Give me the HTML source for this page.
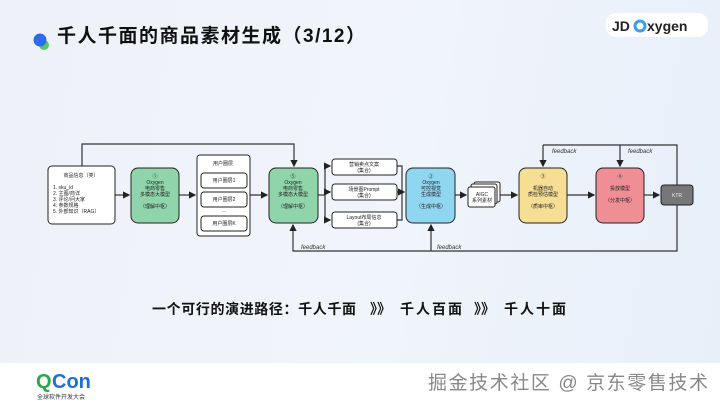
<!DOCTYPE html>
<html><head><meta charset="utf-8"><style>
html,body{margin:0;padding:0}
body{width:720px;height:405px;overflow:hidden;position:relative;background:linear-gradient(100deg,#eef2f8 0%,#f1f5fb 50%,#e7eff9 100%);font-family:"Liberation Sans","Noto Sans CJK SC",sans-serif}
.foot{position:absolute;left:0;top:363px;width:720px;height:42px;background:#fff}
svg{position:absolute;left:0;top:0}
</style></head><body>
<div class="foot"></div>
<svg width="720" height="405" viewBox="0 0 720 405" font-family="Liberation Sans, Noto Sans CJK SC, sans-serif">
<defs><marker id="a" markerWidth="6" markerHeight="6" refX="5" refY="3" orient="auto"><path d="M0,0 L6,3 L0,6 z" fill="#222"/></marker></defs>
<!-- header -->
<circle cx="44" cy="45" r="5" fill="#5ac85a"/>
<circle cx="40" cy="40" r="6.5" fill="#2f6ae8"/>
<text x="57" y="42" font-size="19" font-weight="bold" fill="#111" textLength="308">千人千面的商品素材生成（3/12）</text>
<rect x="606" y="13" width="102" height="24" rx="10" fill="#fff"/>
<text x="612" y="31" font-size="14" font-weight="bold" fill="#222">JD</text>
<circle cx="640" cy="26" r="5" fill="none" stroke="#3a9ee8" stroke-width="3"/>
<text x="647" y="31" font-size="14" font-weight="bold" fill="#222">xygen</text>
<g stroke="#333" stroke-width="1.2" fill="none">
<path d="M82,166 V144 H294 V166" marker-end="url(#a)"/>
<path d="M115,195 H129" marker-end="url(#a)"/>
<path d="M179,195 H195" marker-end="url(#a)"/>
<path d="M250,195 H267" marker-end="url(#a)"/>
<path d="M318,195 H325"/>
<path d="M325,166 V220"/>
<path d="M325,166 H330" marker-end="url(#a)"/>
<path d="M325,192 H330" marker-end="url(#a)"/>
<path d="M325,220 H330" marker-end="url(#a)"/>
<path d="M397,166 H402 V220 H397 M397,192 H404" marker-end="url(#a)"/>
<path d="M455,195 H466" marker-end="url(#a)"/>
<path d="M500,195 H517" marker-end="url(#a)"/>
<path d="M567,195 H594" marker-end="url(#a)"/>
<path d="M644,195 H659" marker-end="url(#a)"/>
<path d="M543,145 H677 V251 H293 V225" marker-end="url(#a)"/>
<path d="M543,145 V166" marker-end="url(#a)"/>
<path d="M620,145 V166" marker-end="url(#a)"/>
<path d="M431,251 V225" marker-end="url(#a)"/>
</g>
<g font-size="6" font-style="italic" fill="#333"><text x="301" y="249">feedback</text><text x="437" y="249">feedback</text><text x="552" y="153">feedback</text><text x="628" y="153">feedback</text></g>
<g stroke="#222" stroke-width="1">
<rect x="48" y="166" width="67" height="58" rx="4" fill="#fff"/>
<rect x="131" y="168" width="48" height="55" rx="7" fill="#8fd4aa"/>
<rect x="197" y="155" width="53" height="81" rx="3" fill="#fff"/>
<rect x="201" y="173" width="46" height="15" rx="3" fill="#fff"/>
<rect x="201" y="192" width="46" height="15" rx="3" fill="#fff"/>
<rect x="201" y="216" width="46" height="15" rx="3" fill="#fff"/>
<rect x="269" y="168" width="49" height="55" rx="7" fill="#8fd4aa"/>
<rect x="332" y="159" width="65" height="16" rx="3" fill="#fff"/>
<rect x="332" y="184" width="65" height="16" rx="3" fill="#fff"/>
<rect x="332" y="212" width="65" height="16" rx="3" fill="#fff"/>
<rect x="406" y="168" width="49" height="55" rx="7" fill="#8fd6f0"/>
<rect x="474" y="182" width="26" height="20" rx="2" fill="#fff"/>
<rect x="471" y="184" width="26" height="20" rx="2" fill="#fff"/>
<rect x="468" y="187" width="27" height="20" rx="2" fill="#fff"/>
<rect x="519" y="168" width="48" height="55" rx="7" fill="#f6df94"/>
<rect x="596" y="168" width="48" height="55" rx="7" fill="#ef8f95"/>
<rect x="661" y="185" width="32" height="20" rx="3" fill="#777"/>
</g>
<g font-size="5" fill="#222" text-anchor="middle">
<text x="81" y="177">商品信息（类）</text>
<text x="155" y="178">①</text><text x="155" y="184">Oxygen</text><text x="155" y="190">电商零售</text><text x="155" y="196">多模态大模型</text><text x="155" y="208">（理解中枢）</text>
<text x="223" y="165">用户圈层</text><text x="224" y="182">用户圈层1</text><text x="224" y="201">用户圈层2</text><text x="224" y="212">…</text><text x="224" y="225">用户圈层K</text>
<text x="293" y="178">⑤</text><text x="293" y="184">Oxygen</text><text x="293" y="190">电商零售</text><text x="293" y="196">多模态大模型</text><text x="293" y="208">（理解中枢）</text>
<text x="364" y="166">营销卖点文案</text><text x="364" y="172">(集合)</text>
<text x="364" y="191">场景图Prompt</text><text x="364" y="197">(集合)</text>
<text x="364" y="219">Layout布局信息</text><text x="364" y="225">(集合)</text>
<text x="431" y="178">②</text><text x="431" y="184">Oxygen</text><text x="431" y="190">可控视觉</text><text x="431" y="196">生成模型</text><text x="431" y="208">（生成中枢）</text>
<text x="482" y="196">AIGC</text><text x="482" y="202">系列素材</text>
<text x="543" y="178">③</text><text x="543" y="190">机器自动</text><text x="543" y="196">质检预估模型</text><text x="543" y="208">（质审中枢）</text>
<text x="620" y="178">④</text><text x="620" y="190">投放模型</text><text x="620" y="202">（分发中枢）</text>
<text x="677" y="197" fill="#eee">KTR</text>
</g>
<g font-size="5" fill="#222"><text x="53" y="189">1.  sku_id</text><text x="53" y="195">2.  主图/商详</text><text x="53" y="201">3.  评论/问大家</text><text x="53" y="207">4.  参数规格</text><text x="53" y="213">5.  外部知识（RAG）</text></g>
<g font-size="14" font-weight="bold" fill="#111">
<text x="152" y="314" textLength="204">一个可行的演进路径：千人千面</text>
<text x="370" y="314">》》</text>
<text x="400" y="314" textLength="62">千人百面</text>
<text x="474" y="314">》》</text>
<text x="504" y="314" textLength="62">千人十面</text>
</g>
<text x="36" y="388" font-size="20" font-weight="bold" fill="#2aa84a">Q</text><text x="52" y="388" font-size="20" font-weight="bold" fill="#1d6fd6">Con</text>
<text x="37" y="399" font-size="6" fill="#333">全球软件开发大会</text>
<text x="428" y="389" font-size="19" fill="#888" textLength="280">掘金技术社区 @ 京东零售技术</text>
</svg>
</body></html>
